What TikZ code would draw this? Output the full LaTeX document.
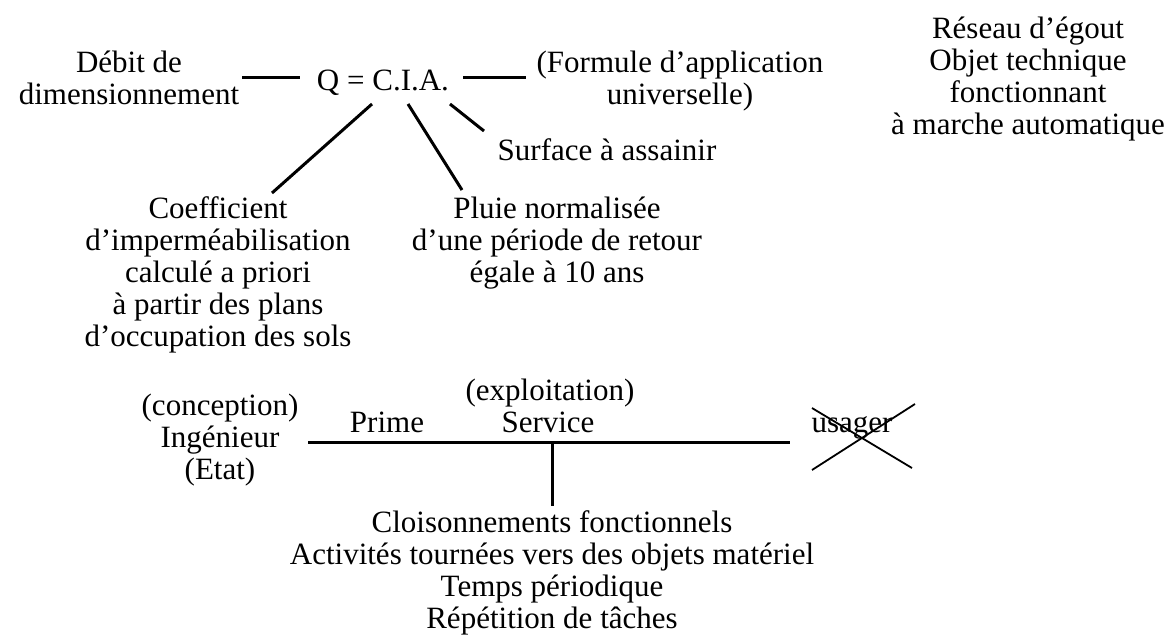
\documentclass[tikz,border=0pt]{standalone}
\usepackage{fontspec}
\setmainfont{Liberation Serif}
\begin{document}
\begin{tikzpicture}[x=1pt,y=-1pt,
  txt/.style={inner sep=0pt,align=center,anchor=base,font=\fontsize{31}{32}\selectfont},
  ln/.style={line width=3pt},
  thinln/.style={line width=1.8pt}]
\useasboundingbox (0,0) rectangle (1168,635);
% top formula (anchor=base is the baseline of the last line)
\node[txt] (debit) at (129,104) {Débit de\\dimensionnement};
\node[txt] (q) at (383,90) {Q = C.I.A.};
\node[txt] (formule) at (680,104) {(Formule d'application\\universelle)};
\node[txt] (reseau) at (1028,134) {Réseau d'égout\\Objet technique\\fonctionnant\\à marche automatique};
\node[txt] (surface) at (607,160) {Surface à assainir};
\node[txt] (coef) at (218,346) {Coefficient\\d'imperméabilisation\\calculé a priori\\à partir des plans\\d'occupation des sols};
\node[txt] (pluie) at (557,282) {Pluie normalisée\\d'une période de retour\\égale à 10 ans};
\coordinate (d1) at (242,77); \coordinate (d2) at (300,77);
\coordinate (f1) at (463,77); \coordinate (f2) at (526,77);
\draw[ln] (d1) -- (d2);
\draw[ln] (f1) -- (f2);
\coordinate (c1) at (372,104); \coordinate (c2) at (272,193);
\coordinate (p1) at (408,104); \coordinate (p2) at (462,190);
\coordinate (s1) at (450,104); \coordinate (s2) at (484,131);
\draw[ln] (c1) -- (c2);
\draw[ln] (p1) -- (p2);
\draw[ln] (s1) -- (s2);
% bottom
\node[txt] (exploit) at (550,400) {(exploitation)};
\node[txt] (ing) at (220,479) {(conception)\\Ingénieur\\(Etat)};
\node[txt] (prime) at (387,432) {Prime};
\node[txt] (service) at (548,432) {Service};
\node[txt] (usager) at (852,432) {usager};
\node[txt] (bas) at (552,628) {Cloisonnements fonctionnels\\Activités tournées vers des objets matériel\\Temps périodique\\Répétition de tâches};
\coordinate (h1) at (308,442);
\coordinate (h2) at (790,442);
\coordinate (v1) at (552,442);
\coordinate (v2) at (552,506);
\draw[ln] (h1) -- (h2);
\draw[ln] (v1) -- (v2);
\coordinate (x1) at (812,408); \coordinate (x2) at (912,468);
\coordinate (x3) at (812,470); \coordinate (x4) at (915,404);
\draw[thinln] (x1) -- (x2);
\draw[thinln] (x3) -- (x4);
\end{tikzpicture}
\end{document}
